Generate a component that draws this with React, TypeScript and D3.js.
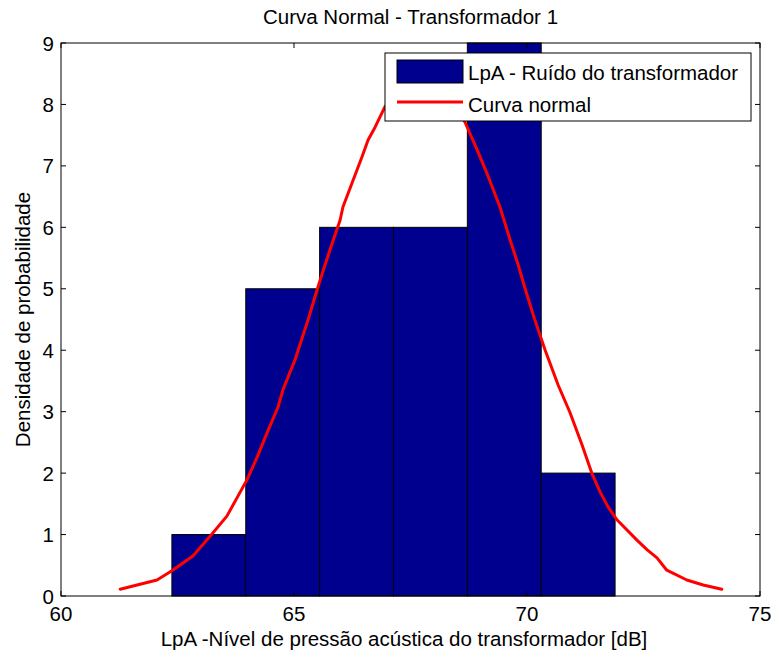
import React from "react";
import * as d3 from "d3";

const title = "Curva Normal - Transformador 1";
const xLabel = "LpA -Nível de pressão acústica do transformador [dB]";
const yLabel = "Densidade de probabilidade";
const legendLabels = ["LpA - Ruído do transformador", "Curva normal"];

const xTicks = [60, 65, 70, 75];
const yTicks = [0, 1, 2, 3, 4, 5, 6, 7, 8, 9];

const binEdges = [62.38, 63.965, 65.55, 67.135, 68.72, 70.305, 71.89];
const binCounts = [1, 5, 6, 6, 9, 2];

const curveX = [
  61.27, 62.06, 62.38, 62.83, 63.24, 63.56, 63.99, 64.21, 64.42, 64.66, 64.76,
  65.02, 65.3, 65.45, 65.56, 65.77, 65.99, 66.05, 66.27, 66.46, 66.59, 66.74,
  66.95, 67.27, 67.7, 68.13, 68.45, 68.67, 68.93, 69.14, 69.42, 69.64, 69.81,
  69.96, 70.17, 70.39, 70.67, 70.92, 71.18, 71.39, 71.57, 71.74, 71.93, 72.36,
  72.58, 72.79, 73.0, 73.43, 73.78, 74.18,
];
const curveY = [
  0.11, 0.26, 0.41, 0.65, 1.01, 1.3, 1.89, 2.26, 2.65, 3.08, 3.35, 3.84, 4.49,
  4.87, 5.14, 5.63, 6.12, 6.33, 6.77, 7.15, 7.42, 7.63, 7.96, 8.27, 8.32, 8.24,
  7.99, 7.71, 7.26, 6.88, 6.33, 5.79, 5.39, 5.0, 4.49, 4.0, 3.43, 2.99, 2.46,
  2.0, 1.69, 1.45, 1.24, 0.91, 0.75, 0.62, 0.42, 0.26, 0.18, 0.11,
];

const W = 774;
const H = 656;
const left = 61;
const right = 760;
const top = 43;
const bottom = 596;
const font = "Arial, 'Liberation Sans', Helvetica, sans-serif";
const barColor = "#00008F";

export default function App() {
  const x = d3.scaleLinear().domain([60, 75]).range([left, right]);
  const y = d3.scaleLinear().domain([0, 9]).range([bottom, top]);
  const pts: [number, number][] = curveX.map((v, i) => [v, curveY[i]]);
  const line = d3
    .line<[number, number]>()
    .x((d) => x(d[0]))
    .y((d) => y(d[1]));
  const tickLen = 5;
  const fs = 20.5;

  const lgX = 385;
  const lgY = 53;
  const lgW = 366;
  const lgH = 68;

  return (
    <svg
      width={W}
      height={H}
      style={{ position: "absolute", left: 0, top: 0, background: "#fff" }}
      fontFamily={font}
    >
      <rect x={0} y={0} width={W} height={H} fill="#fff" />
      {binCounts.map((c, i) => (
        <rect
          key={i}
          x={x(binEdges[i])}
          y={y(c)}
          width={x(binEdges[i + 1]) - x(binEdges[i])}
          height={y(0) - y(c)}
          fill={barColor}
          stroke="#000"
          strokeWidth={1}
        />
      ))}
      <path
        d={line(pts) || ""}
        fill="none"
        stroke="#FF0000"
        strokeWidth={3}
        strokeLinejoin="round"
        strokeLinecap="round"
      />
      <rect
        x={left}
        y={top}
        width={right - left}
        height={bottom - top}
        fill="none"
        stroke="#000"
        strokeWidth={1}
      />
      {yTicks.map((t) => (
        <g key={"y" + t}>
          <line x1={left} x2={left + tickLen} y1={y(t)} y2={y(t)} stroke="#000" />
          <line x1={right} x2={right - tickLen} y1={y(t)} y2={y(t)} stroke="#000" />
          <text
            x={left - 7}
            y={y(t)}
            textAnchor="end"
            dominantBaseline="central"
            fontSize={fs}
            fill="#000"
          >
            {t}
          </text>
        </g>
      ))}
      {xTicks.map((t) => (
        <g key={"x" + t}>
          <line x1={x(t)} x2={x(t)} y1={bottom} y2={bottom - tickLen} stroke="#000" />
          <line x1={x(t)} x2={x(t)} y1={top} y2={top + tickLen} stroke="#000" />
          <text
            x={x(t)}
            y={621}
            textAnchor="middle"
            fontSize={fs}
            fill="#000"
          >
            {t}
          </text>
        </g>
      ))}
      <text x={(left + right) / 2} y={24} textAnchor="middle" fontSize={fs} fill="#000">
        {title}
      </text>
      <text x={404} y={646} textAnchor="middle" fontSize={fs} fill="#000">
        {xLabel}
      </text>
      <text
        transform={`translate(30, ${(top + bottom) / 2}) rotate(-90)`}
        textAnchor="middle"
        fontSize={fs}
        fill="#000"
      >
        {yLabel}
      </text>
      <g>
        <rect x={lgX} y={lgY} width={lgW} height={lgH} fill="#fff" stroke="#000" strokeWidth={1} />
        <rect x={397} y={60} width={66} height={23} fill={barColor} stroke="#000" strokeWidth={1} />
        <line x1={397} x2={463} y1={102} y2={102} stroke="#FF0000" strokeWidth={3} />
        <text x={468} y={72} dominantBaseline="central" fontSize={fs} fill="#000">
          {legendLabels[0]}
        </text>
        <text x={468} y={104} dominantBaseline="central" fontSize={fs} fill="#000">
          {legendLabels[1]}
        </text>
      </g>
    </svg>
  );
}
